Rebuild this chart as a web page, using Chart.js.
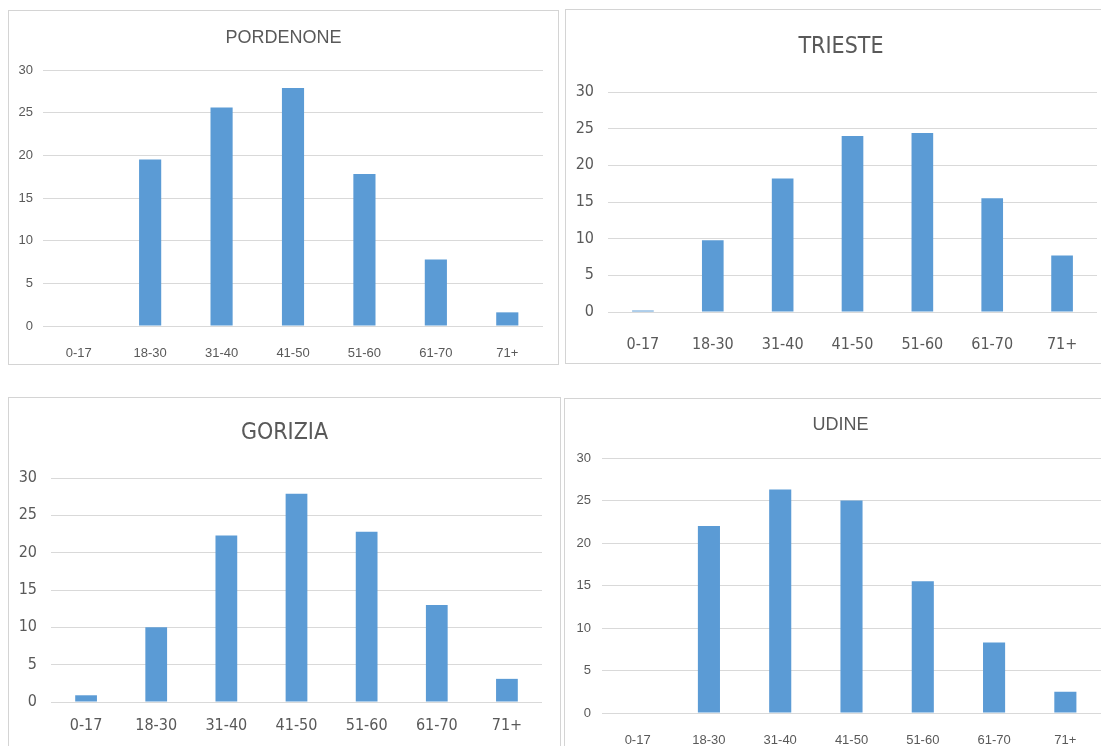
<!DOCTYPE html>
<html>
<head>
<meta charset="utf-8">
<script src="https://cdn.jsdelivr.net/npm/chart.js@4.4.1/dist/chart.umd.min.js"></script>
<style>
  html, body { margin:0; padding:0; background:#fff; overflow:hidden; width:1101px; height:746px; }
  .panel { position:absolute; border:1px solid #d4d4d4; box-sizing:border-box; background:#fff; }
  .panel canvas { position:absolute; left:0; top:0; }
</style>
</head>
<body>
<script>
/* dati */
const categories = ["0-17", "18-30", "31-40", "41-50", "51-60", "61-70", "71+"];
const pordenone = [0, 19.5, 25.6, 27.9, 17.8, 7.8, 1.6];
const trieste   = [0.2, 9.8, 18.2, 24.0, 24.4, 15.5, 7.7];
const gorizia   = [0.9, 10.0, 22.3, 27.9, 22.8, 13.0, 3.1];
const udine     = [0, 22.0, 26.3, 25.0, 15.5, 8.3, 2.5];
const yMax = 30;
const yStep = 5;

const REG = "'Liberation Sans', Arial, sans-serif";
const NARROW = "'Liberation Sans Narrow', 'DejaVu Sans Condensed', 'Liberation Sans', sans-serif";
const GREY = "#595959";

/* title centred on the whole panel, not on the padded area */
const centreTitle = {
  id: "centreTitle",
  afterLayout(chart){
    const t = chart.titleBlock;
    if (!t) return;
    t.left = 0; t.right = chart.width; t.width = chart.width;
  }
};

/* box = [x, y, w, h] in page px, plot = [left, top, right, bottom] */
function makeChart(title, values, g){
  const div = document.createElement("div");
  div.className = "panel";
  div.style.left = g.box[0] + "px";
  div.style.top = g.box[1] + "px";
  div.style.width = g.box[2] + "px";
  div.style.height = g.box[3] + "px";
  const cv = document.createElement("canvas");
  const cx = g.box[0] + 1, cy = g.box[1] + 1;
  const cw = g.box[2] - 2, ch = g.box[3] - 2;
  cv.width = cw; cv.height = ch;
  div.appendChild(cv);
  document.body.appendChild(div);

  const right = cx + cw - g.plot[2];
  const yw = g.plot[0] - cx;
  const xh = cy + ch - g.plot[3];
  const pt = g.titleY - cy - 0.6 * g.ts;
  const pb = g.plot[1] - cy - pt - 1.2 * g.ts;

  new Chart(cv, {
    type: "bar",
    data: {
      labels: categories,
      datasets: [{ data: values, backgroundColor: "#5b9bd5", barPercentage: 0.31, categoryPercentage: 1 }]
    },
    plugins: [centreTitle],
    options: {
      responsive: false,
      animation: false,
      layout: { padding: { left: 0, right: right, top: 0, bottom: 0 } },
      plugins: {
        legend: { display: false },
        tooltip: { enabled: false },
        title: {
          display: true, text: title, color: GREY,
          font: { family: g.font, size: g.ts, weight: "normal" },
          padding: { top: pt, bottom: pb }
        }
      },
      scales: {
        x: {
          grid: { display: false },
          border: { display: false },
          ticks: { color: GREY, font: { family: g.font, size: g.fs }, padding: g.xpad, maxRotation: 0, autoSkip: false },
          afterFit: s => { s.height = xh; }
        },
        y: {
          min: 0, max: yMax,
          grid: { color: "#d9d9d9", drawTicks: false },
          border: { display: false },
          ticks: { stepSize: yStep, color: GREY, font: { family: g.font, size: g.fs }, padding: g.ypad },
          afterFit: s => { s.width = yw; }
        }
      }
    }
  });
}

makeChart("PORDENONE", pordenone, {
  box: [8, 10, 551, 355], plot: [43, 70, 543, 326], titleY: 38, ts: 18, fs: 13,
  xpad: 12, ypad: 10, font: REG
});
makeChart("TRIESTE", trieste, {
  box: [565, 9, 552, 355], plot: [608, 92, 1097, 312], titleY: 47, ts: 23, fs: 16,
  xpad: 15, ypad: 14, font: NARROW
});
makeChart("GORIZIA", gorizia, {
  box: [8, 397, 553, 357], plot: [51, 478, 542, 702], titleY: 433, ts: 23, fs: 16,
  xpad: 6, ypad: 14, font: NARROW
});
makeChart("UDINE", udine, {
  box: [564, 398, 553, 355], plot: [602, 458, 1101, 713], titleY: 425, ts: 18, fs: 13,
  xpad: 12, ypad: 11, font: REG
});
</script>
</body>
</html>
